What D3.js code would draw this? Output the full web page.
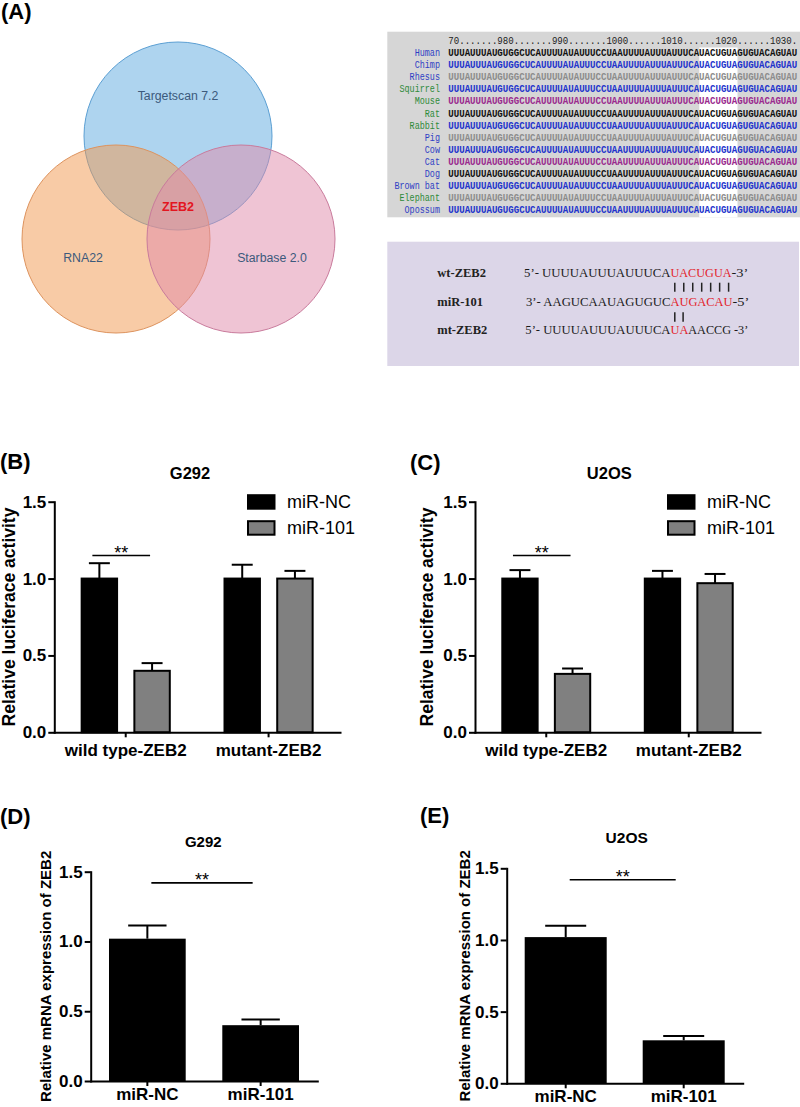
<!DOCTYPE html>
<html>
<head>
<meta charset="utf-8">
<script src="https://cdn.jsdelivr.net/npm/d3@7"></script>
<style>
  body { margin: 0; background: #fff; }
  svg { display: block; }
</style>
</head>
<body>
<div id="chart"></div>
<script>
// ---------------- DATA ----------------
const vennSetNames = ["Targetscan 7.2", "RNA22", "Starbase 2.0"];
const vennCommon = "ZEB2";

const alignHeader = "70.......980.......990.......1000......1010......1020......1030.";
const species = ["Human", "Chimp", "Rhesus", "Squirrel", "Mouse", "Rat", "Rabbit", "Pig",
                 "Cow", "Cat", "Dog", "Brown bat", "Elephant", "Opossum"];
const utrSequence = "UUUAUUUAUGUGGCUCAUUUUAUAUUUCCUAAUUUUAUUUAUUUCAUACUGUAGUGUACAGUAU";
const seedColumns = [46, 53];

const pairLabels = ["wt-ZEB2", "miR-101", "mt-ZEB2"];
const pairLeft  = ["5\u2019- UUUUAUUUAUUUCA", "3\u2019- AAGUCAAUAGUGUC", "5\u2019- UUUUAUUUAUUUCA"];
const pairSeed  = ["UACUGUA", "AUGACAU", "UA"];
const pairRight = [" -3\u2019", " -5\u2019", "AACCG -3\u2019"];
const wtPairs = 7;
const mtPairs = 2;

const luciferaseGroups = ["wild type-ZEB2", "mutant-ZEB2"];
const mirSeries = ["miR-NC", "miR-101"];
const g292LucMean = [[1.00, 0.40], [1.00, 1.00]];
const g292LucErr  = [[0.10, 0.05], [0.09, 0.05]];
const u2osLucMean = [[1.00, 0.38], [1.00, 0.97]];
const u2osLucErr  = [[0.055, 0.035], [0.05, 0.06]];

const mrnaGroups = ["miR-NC", "miR-101"];
const g292MrnaMean = [1.02, 0.40];
const g292MrnaErr  = [0.095, 0.04];
const u2osMrnaMean = [1.02, 0.30];
const u2osMrnaErr  = [0.08, 0.03];

const yTickValues = [0, 0.5, 1.0, 1.5];
const sigLabel = "**";
const lucSigLevel = 1.15;
const mrnaSigLevel = 1.42;

// ---------------- STYLES ----------------
const SANS = "'Liberation Sans', Arial, Helvetica, sans-serif";
const SERIF = "'Liberation Serif', 'Times New Roman', serif";
const MONO = "'Liberation Mono', 'Courier New', monospace";
const BLUE_N = "#2f3fc4", GREEN_N = "#2e8a3a";
const SEQ_BLACK = "#111111", SEQ_BLUE = "#2233cc", SEQ_GRAY = "#8c8c8c", SEQ_PURPLE = "#9a2a8e";
const nameColors = [BLUE_N, BLUE_N, BLUE_N, GREEN_N, GREEN_N, GREEN_N, GREEN_N, BLUE_N,
                    BLUE_N, BLUE_N, BLUE_N, BLUE_N, GREEN_N, BLUE_N];
const seqColors = [SEQ_BLACK, SEQ_BLUE, SEQ_GRAY, SEQ_BLUE, SEQ_PURPLE, SEQ_BLACK, SEQ_BLUE, SEQ_GRAY,
                   SEQ_BLUE, SEQ_PURPLE, SEQ_BLACK, SEQ_BLUE, SEQ_GRAY, SEQ_BLUE];

const svg = d3.select("#chart").append("svg")
  .attr("width", 800).attr("height", 1107)
  .attr("font-family", SANS);

// ---------------- PANEL LABELS ----------------
const panelLetters = ["(A)", "(B)", "(C)", "(D)", "(E)"];
const panelPos = [[1, 19], [0, 469], [410, 470], [0, 824], [420, 823]];
svg.append("g").selectAll("text").data(panelLetters).join("text")
  .attr("x", (d, i) => panelPos[i][0]).attr("y", (d, i) => panelPos[i][1])
  .attr("font-size", 22).attr("font-weight", "bold").attr("fill", "#000")
  .text(d => d);

// ---------------- VENN ----------------
const vennGeom = [
  { cx: 178, cy: 136, fill: "rgb(93,170,224)",  stroke: "#5b9fd3", lx: 178, ly: 100 },
  { cx: 116, cy: 239, fill: "rgb(241,151,77)",  stroke: "#dd935e", lx: 83,  ly: 262 },
  { cx: 241, cy: 239, fill: "rgb(224,137,170)", stroke: "#c97b9c", lx: 272, ly: 262 }
];
const vennR = 94;
const venn = svg.append("g");
venn.selectAll("circle").data(vennSetNames).join("circle")
  .attr("cx", (d, i) => vennGeom[i].cx).attr("cy", (d, i) => vennGeom[i].cy)
  .attr("r", vennR)
  .attr("fill", (d, i) => vennGeom[i].fill).attr("fill-opacity", 0.5)
  .attr("stroke", (d, i) => vennGeom[i].stroke).attr("stroke-width", 1);
venn.selectAll("text.set").data(vennSetNames).join("text").attr("class", "set")
  .attr("x", (d, i) => vennGeom[i].lx).attr("y", (d, i) => vennGeom[i].ly)
  .attr("text-anchor", "middle").attr("font-size", 12.3).attr("fill", "#3c5a7c")
  .text(d => d);
venn.append("text").attr("x", 178).attr("y", 211).attr("text-anchor", "middle")
  .attr("font-size", 12.5).attr("font-weight", "bold").attr("fill", "#e3151f")
  .text(vennCommon);

// ---------------- ALIGNMENT ----------------
const MONO_SIZE = 10.5, MONO_ADV = 0.6 * MONO_SIZE;
const align = svg.append("g");
align.append("rect").attr("x", 387.3).attr("y", 31.7).attr("width", 800 - 387.3).attr("height", 217.3 - 31.7)
  .attr("fill", "#d6d6d6");
const col = d3.scaleLinear().domain([0, utrSequence.length]).range([448.3, 797.5]);
const rowY = d3.scaleLinear().domain([0, species.length - 1]).range([56, 213.3]);
const colScaleX = (col(1) - col(0)) / MONO_ADV;
align.append("rect")
  .attr("x", col(seedColumns[0])).attr("width", col(seedColumns[1]) - col(seedColumns[0]))
  .attr("y", 47.5).attr("height", 217.3 - 47.5).attr("fill", "#ffffff");
align.append("g").attr("transform", `translate(${col(0)},44) scale(${colScaleX},1)`)
  .append("text").attr("x", 0).attr("y", 0)
  .attr("font-family", MONO).attr("font-size", MONO_SIZE).attr("fill", "#222")
  .text(alignHeader);
const nameScaleX = colScaleX * 0.93;
align.selectAll("g.name").data(species).join("g").attr("class", "name")
  .attr("transform", (d, i) => `translate(440,${rowY(i)}) scale(${nameScaleX},1)`)
  .append("text").attr("x", 0).attr("y", 0).attr("text-anchor", "end")
  .attr("font-family", MONO).attr("font-size", MONO_SIZE)
  .attr("fill", (d, i) => nameColors[i])
  .text(d => d);
align.selectAll("g.seq").data(species).join("g").attr("class", "seq")
  .attr("transform", (d, i) => `translate(${col(0)},${rowY(i)}) scale(${colScaleX},1)`)
  .append("text").attr("x", 0).attr("y", 0)
  .attr("font-family", MONO).attr("font-size", MONO_SIZE).attr("font-weight", "bold")
  .attr("fill", (d, i) => seqColors[i])
  .text(utrSequence);

// ---------------- BINDING SITE ----------------
const bind = svg.append("g").attr("font-family", SERIF);
bind.append("rect").attr("x", 387.3).attr("y", 241.7).attr("width", 799 - 387.3).attr("height", 366 - 241.7)
  .attr("fill", "#dcd6e8");
const pairY = [276.7, 306, 334.3];
const leftStart = [524, 526, 525.3];
const seedStart = 670.5;
const seedEnd = [731.5, 732.5, 688.3];
const rightEnd = [748.3, 749.3, 748.3];
bind.selectAll("text.lab").data(pairLabels).join("text").attr("class", "lab")
  .attr("x", 437.3).attr("y", (d, i) => pairY[i])
  .attr("font-size", 12.5).attr("font-weight", "bold").attr("fill", "#222")
  .text(d => d);
bind.selectAll("text.l").data(pairLeft).join("text").attr("class", "l")
  .attr("x", (d, i) => leftStart[i]).attr("y", (d, i) => pairY[i])
  .attr("font-size", 12.5).attr("fill", "#1a1a1a")
  .attr("textLength", (d, i) => seedStart - leftStart[i]).attr("lengthAdjust", "spacingAndGlyphs")
  .text(d => d);
bind.selectAll("text.s").data(pairSeed).join("text").attr("class", "s")
  .attr("x", seedStart).attr("y", (d, i) => pairY[i])
  .attr("font-size", 12.5).attr("fill", "#e3232b")
  .attr("textLength", (d, i) => seedEnd[i] - seedStart).attr("lengthAdjust", "spacingAndGlyphs")
  .text(d => d);
bind.selectAll("text.r").data(pairRight).join("text").attr("class", "r")
  .attr("x", (d, i) => seedEnd[i]).attr("y", (d, i) => pairY[i])
  .attr("font-size", 12.5).attr("fill", "#1a1a1a")
  .attr("textLength", (d, i) => rightEnd[i] - seedEnd[i]).attr("lengthAdjust", "spacingAndGlyphs")
  .text(d => d);
const pairStep = (728.3 - 674.5) / (wtPairs - 1);
bind.selectAll("line.wt").data(d3.range(wtPairs)).join("line").attr("class", "wt")
  .attr("x1", d => 674.8 + d * pairStep).attr("x2", d => 674.8 + d * pairStep)
  .attr("y1", 282.7).attr("y2", 291.7).attr("stroke", "#222").attr("stroke-width", 1.5);
bind.selectAll("line.mt").data(d3.range(mtPairs)).join("line").attr("class", "mt")
  .attr("x1", d => 674.8 + d * 8.3).attr("x2", d => 674.8 + d * 8.3)
  .attr("y1", 312.3).attr("y2", 321.7).attr("stroke", "#222").attr("stroke-width", 1.5);

// ---------------- BAR CHART HELPERS ----------------
function styleAxis(g, fontSize) {
  g.select(".domain").attr("stroke", "#000").attr("stroke-width", 2).attr("stroke-linecap", "square");
  g.selectAll(".tick line").attr("stroke", "#000").attr("stroke-width", 2);
  g.selectAll(".tick text").attr("fill", "#000").attr("font-size", fontSize)
    .attr("font-weight", "bold").attr("font-family", SANS);
}

function errorBars(g, items, cx, y, capW) {
  g.selectAll("line.ev").data(items).join("line").attr("class", "ev")
    .attr("x1", cx).attr("x2", cx)
    .attr("y1", d => y(d.v)).attr("y2", d => y(d.v + d.e))
    .attr("stroke", "#000").attr("stroke-width", 2);
  g.selectAll("line.ec").data(items).join("line").attr("class", "ec")
    .attr("x1", d => cx(d) - capW / 2).attr("x2", d => cx(d) + capW / 2)
    .attr("y1", d => y(d.v + d.e)).attr("y2", d => y(d.v + d.e))
    .attr("stroke", "#000").attr("stroke-width", 2);
}

function sigMark(g, xa, xb, yy) {
  g.append("line").attr("x1", xa).attr("x2", xb).attr("y1", yy).attr("y2", yy)
    .attr("stroke", "#000").attr("stroke-width", 1.6);
  g.append("text").attr("x", (xa + xb) / 2).attr("y", yy + 3.5).attr("text-anchor", "middle")
    .attr("font-size", 18).attr("fill", "#000").text(sigLabel);
}

function groupedPanel(p) {
  const g = svg.append("g");
  const y = d3.scaleLinear().domain([0, 1.5]).range([p.y0, p.y1]);
  const x0 = d3.scaleBand().domain(luciferaseGroups).range([p.xL, p.xR]);
  const x1 = d3.scaleBand().domain(mirSeries).range([0, x0.bandwidth()])
    .paddingInner(0.29).paddingOuter(0.5);
  const items = luciferaseGroups.flatMap((grp, i) =>
    mirSeries.map((s, j) => ({ grp, s, v: p.mean[i][j], e: p.err[i][j] })));
  const cx = d => x0(d.grp) + x1(d.s) + x1.bandwidth() / 2;

  errorBars(g, items, cx, y, x1.bandwidth() * 0.56);
  g.selectAll("rect.bar").data(items).join("rect").attr("class", "bar")
    .attr("x", d => x0(d.grp) + x1(d.s) + 1).attr("width", x1.bandwidth() - 2)
    .attr("y", d => y(d.v)).attr("height", d => y(0) - y(d.v))
    .attr("fill", d => d.s === mirSeries[0] ? "#000" : "#808080")
    .attr("stroke", "#000").attr("stroke-width", 2);

  const ya = g.append("g").attr("transform", `translate(${p.xL},0)`)
    .call(d3.axisLeft(y).tickValues(yTickValues).tickFormat(d3.format(".1f"))
      .tickSize(6).tickSizeOuter(0).tickPadding(2));
  styleAxis(ya, 17);
  const xa = g.append("g").attr("transform", `translate(0,${p.y0})`)
    .call(d3.axisBottom(x0).tickSize(5).tickSizeOuter(0).tickPadding(7));
  styleAxis(xa, 17);

  g.append("text").attr("x", p.titleX).attr("y", p.titleY).attr("text-anchor", "middle")
    .attr("font-size", 16.5).attr("font-weight", "bold").text(p.title);
  g.append("text").attr("transform", `translate(${p.labX},${(p.y0 + p.y1) / 2}) rotate(-90)`)
    .attr("text-anchor", "middle").attr("font-size", 17.5).attr("font-weight", "bold")
    .text("Relative luciferace activity");

  const first = items[0], second = items[1];
  sigMark(g, cx(first) - 7, cx(second) - 2, y(lucSigLevel));

  // legend
  const lg = g.append("g").attr("transform", `translate(${p.xR - 92},${p.y1 - 6.5})`);
  lg.selectAll("rect").data(mirSeries).join("rect")
    .attr("x", 0).attr("y", (d, i) => i * 26).attr("width", 26.5).attr("height", 13.5)
    .attr("fill", (d, i) => i === 0 ? "#000" : "#808080").attr("stroke", "#000").attr("stroke-width", 2);
  lg.selectAll("text").data(mirSeries).join("text")
    .attr("x", 39).attr("y", (d, i) => 12.5 + i * 26)
    .attr("font-size", 18).attr("fill", "#000").text(d => d);
}

function simplePanel(p) {
  const g = svg.append("g");
  const y = d3.scaleLinear().domain([0, 1.5]).range([p.y0, p.y1]);
  const x = d3.scaleBand().domain(mrnaGroups).range([p.xL, p.xR])
    .paddingInner(p.pad).paddingOuter(p.pad / 2);
  const items = mrnaGroups.map((grp, i) => ({ grp, v: p.mean[i], e: p.err[i] }));
  const cx = d => x(d.grp) + x.bandwidth() / 2;

  errorBars(g, items, cx, y, x.bandwidth() * 0.5);
  g.selectAll("rect.bar").data(items).join("rect").attr("class", "bar")
    .attr("x", d => x(d.grp)).attr("width", x.bandwidth())
    .attr("y", d => y(d.v)).attr("height", d => y(0) - y(d.v))
    .attr("fill", "#000");

  const ya = g.append("g").attr("transform", `translate(${p.xL},0)`)
    .call(d3.axisLeft(y).tickValues(yTickValues).tickFormat(d3.format(".1f"))
      .tickSize(6).tickSizeOuter(0).tickPadding(2));
  styleAxis(ya, 17);
  const xa = g.append("g").attr("transform", `translate(0,${p.y0})`)
    .call(d3.axisBottom(x).tickSize(5).tickSizeOuter(0).tickPadding(1.5));
  styleAxis(xa, 17);

  g.append("text").attr("x", p.titleX).attr("y", p.titleY).attr("text-anchor", "middle")
    .attr("font-size", p.titleSize).attr("font-weight", "bold").text(p.title);
  g.append("text").attr("transform", `translate(${p.labX},${(p.y0 + p.y1) / 2}) rotate(-90)`)
    .attr("text-anchor", "middle").attr("font-size", 15).attr("font-weight", "bold")
    .text("Relative mRNA expression of ZEB2");

  sigMark(g, cx(items[0]) + 4, cx(items[1]) - 8, y(mrnaSigLevel));
}

// ---------------- PANELS B-E ----------------
groupedPanel({ xL: 54.3, xR: 340, y0: 732.3, y1: 501.7, mean: g292LucMean, err: g292LucErr,
  title: "G292", titleX: 190, titleY: 479, labX: 15 });
groupedPanel({ xL: 475, xR: 760, y0: 732.3, y1: 501.7, mean: u2osLucMean, err: u2osLucErr,
  title: "U2OS", titleX: 609.3, titleY: 479, labX: 433 });
simplePanel({ xL: 90.7, xR: 317.3, y0: 1081, y1: 871.7, pad: 0.323, mean: g292MrnaMean, err: g292MrnaErr,
  title: "G292", titleX: 203.3, titleY: 846.7, titleSize: 15, labX: 51 });
simplePanel({ xL: 506.7, xR: 742.7, y0: 1083.3, y1: 868.3, pad: 0.305, mean: u2osMrnaMean, err: u2osMrnaErr,
  title: "U2OS", titleX: 626.7, titleY: 843.3, titleSize: 15.5, labX: 470 });
</script>
</body>
</html>
